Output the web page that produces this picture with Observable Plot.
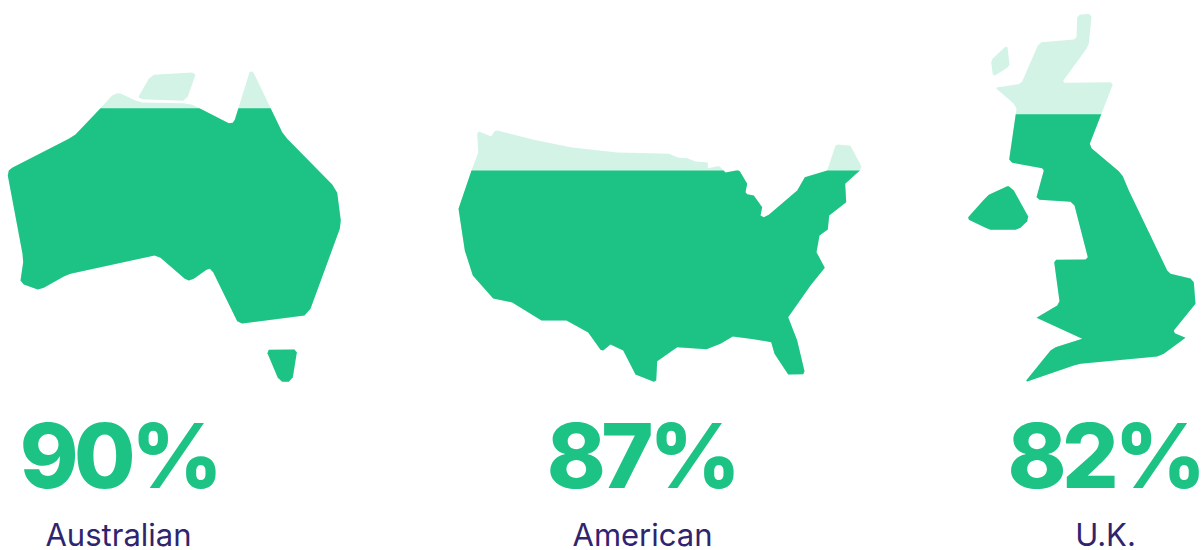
<!DOCTYPE html>
<html>
<head>
<meta charset="utf-8">
<script src="https://cdn.jsdelivr.net/npm/d3@7"></script>
<script src="https://cdn.jsdelivr.net/npm/@observablehq/plot@0.6"></script>
<style>html,body{margin:0;padding:0;background:#fff;overflow:hidden}svg{display:block}.pct text{letter-spacing:-0.05em}</style>
</head>
<body>
<div id="chart"></div>
<script>
const labels = ["Australian", "American", "U.K."];
const percents = ["90%", "87%", "82%"];
const labelCenters = [118, 642, 1105];
const percentCenters = [118.5, 641, 1104];
const fillLines = [107.7, 170, 113.7];

const australiaMain = [[100,107.7],[111.7,95],[116.7,92.7],[120.7,93.3],[135,100],[141.7,102],[183.3,102.7],[191.7,104.3],[200,108.3],[228.3,122.7],[232.3,122.3],[234.3,119.3],[249,71.7],[251.3,70.7],[253.3,72.7],[281.7,131.7],[286.7,138.3],[331.7,184],[336.7,192.3],[340.3,220],[339.3,228.3],[310,308.3],[304,315],[241.7,323],[236.7,320.7],[212.7,271.7],[209.3,268.3],[206,269.3],[193.3,278.3],[188.3,280],[184.3,278.3],[160,257.3],[154,255],[70,273.3],[63.3,276],[43.3,287.3],[37.3,289],[23.3,284],[20,280],[22.7,261.7],[22,253.3],[7.3,175],[8.3,170],[11.7,167.3],[68.3,138.3],[75,134]];
const australiaIsland = [[138.3,95.7],[148.3,78.3],[153.3,74.3],[191.7,72],[195,74.3],[187.3,96],[182.7,100.3],[141.7,98.7],[138.7,97.3]];
const tasmania = [[268.3,349.3],[294,349],[296.3,352],[292.3,376.7],[288.3,381.3],[281.7,381.3],[277.3,377.3],[267,352.7]];
const usa = [[476.7,132.7],[478.7,131],[490.7,136],[494,130.7],[496.7,130],[533.3,139.3],[570,146.7],[616.7,152],[650,152.7],[668.3,153.3],[677.3,157],[686.7,157.7],[695,161],[707.3,162],[707.3,167.7],[716.7,165.7],[719.3,166],[725,172],[737.3,169.7],[739.3,170.7],[746.7,183.3],[745,191.7],[746.7,193.7],[753.3,195],[761.7,206.7],[760,215],[763.3,216.7],[768.3,214.3],[796.7,190],[804.3,176.7],[826.7,170],[835,145],[837.3,144],[850,145.3],[861,166],[859.3,170],[844.7,183.3],[845.7,201.7],[828.7,215],[827.3,229],[819,235],[816,251.7],[824.3,267.3],[810,285],[787.7,316.7],[796.7,340],[804,370.7],[802.7,373.7],[787.7,374],[774,353.3],[770.7,341.7],[753.3,338.7],[732.3,336],[720,343.3],[706,348.7],[676.7,346.7],[656.7,360.7],[655.7,380],[653.3,381.3],[635,374],[622.7,350],[610,344],[602.7,350],[600,349.3],[587.7,332],[566,320],[541,320],[511.7,302],[492.7,298],[472.3,275],[464.3,250],[458,208.3],[471,170],[477.7,152.3]];
const britain = [[996,87],[1018.3,83.7],[1021.7,81],[1037.3,45],[1041,41.7],[1073.3,39],[1076,36.7],[1076.7,16.7],[1079.3,14.3],[1088.3,13.3],[1091,16],[1088.3,43.3],[1086,48.3],[1062.7,80.3],[1064,82.3],[1110,81.7],[1112.3,84],[1089.3,143.3],[1091,147.7],[1118.3,170.7],[1122.3,175.7],[1128.3,190],[1166.7,270],[1170,273.3],[1190,278],[1193.3,281.7],[1195,303.3],[1173.3,330],[1174.3,332.7],[1185,337.3],[1163.3,353.3],[1156.7,356],[1080,363.3],[1073.3,365],[1026.7,381],[1025.7,380],[1050,350],[1055,346.7],[1081.7,338.3],[1036,317.3],[1056.7,305],[1059,300.7],[1053.7,261.7],[1055.7,259.3],[1085,259],[1087.3,256.7],[1074,205],[1070,201.3],[1039,199.3],[1036.7,197.3],[1036,196.7],[1043.3,170],[1041.7,167.7],[1011.7,162.3],[1008.7,159],[1016,108.3],[1013.3,103.3],[996,88.3]];
const hebrides = [[990.7,61.7],[992,58.3],[1005,46],[1007,46.7],[1009,64.3],[1006.7,67.3],[994.3,75],[992.3,74]];
const ireland = [[1008.3,185.7],[1013.3,190],[1027.7,216],[1026.7,220.7],[1020,227.3],[1015,229.3],[990,229.3],[985,227.3],[968.3,219.3],[967.7,216.7],[983.3,199.3],[988.3,194.3],[1006.7,185.7]];

const GREEN = "#1dc385", PALE = "#d3f3e6", NAVY = "#30246e";

const groups = [
  {shapes: [australiaMain, australiaIsland, tasmania], line: fillLines[0]},
  {shapes: [usa], line: fillLines[1]},
  {shapes: [britain, hebrides, ireland], line: fillLines[2]}
];

// keep the part of a polygon below the fill line
function below(poly, line) {
  const out = [];
  for (let i = 0; i < poly.length; i++) {
    const a = poly[i], b = poly[(i + 1) % poly.length];
    const ain = a[1] >= line, bin = b[1] >= line;
    if (ain) out.push(a);
    if (ain !== bin) {
      const t = (line - a[1]) / (b[1] - a[1]);
      out.push([a[0] + t * (b[0] - a[0]), line]);
    }
  }
  return out;
}

const paleRows = [], fullRows = [];
groups.forEach((g, gi) => g.shapes.forEach((s, si) => {
  const id = gi + "-" + si;
  s.forEach(p => paleRows.push({x: p[0], y: p[1], id}));
  below(s, g.line).forEach(p => fullRows.push({x: p[0], y: p[1], id}));
}));

const rows = labels.map((label, i) => ({label, percent: percents[i], labelCenter: labelCenters[i], percentCenter: percentCenters[i]}));

const chart = Plot.plot({
  width: 1202,
  height: 550,
  marginTop: 0, marginRight: 0, marginBottom: 0, marginLeft: 0,
  x: {domain: [0, 1202], range: [0, 1202], axis: null},
  y: {domain: [0, 550], range: [0, 550], axis: null},
  style: {background: "#fff", overflow: "visible"},
  marks: [
    Plot.line(paleRows, {x: "x", y: "y", z: "id", fill: PALE, stroke: "none", curve: "linear-closed"}),
    Plot.line(fullRows, {x: "x", y: "y", z: "id", fill: GREEN, stroke: "none", curve: "linear-closed"}),
    Plot.text(rows, {x: "percentCenter", y: () => 459, text: "percent", fill: GREEN, fontSize: 89, fontWeight: 800, fontFamily: "Inter", textAnchor: "middle", lineAnchor: "middle", className: "pct"}),
    Plot.text(rows, {x: "labelCenter", y: () => 536, text: "label", fill: NAVY, fontSize: 31, fontWeight: 400, fontFamily: "Inter", textAnchor: "middle", lineAnchor: "middle"})
  ]
});
document.getElementById("chart").append(chart);
</script>
</body>
</html>
